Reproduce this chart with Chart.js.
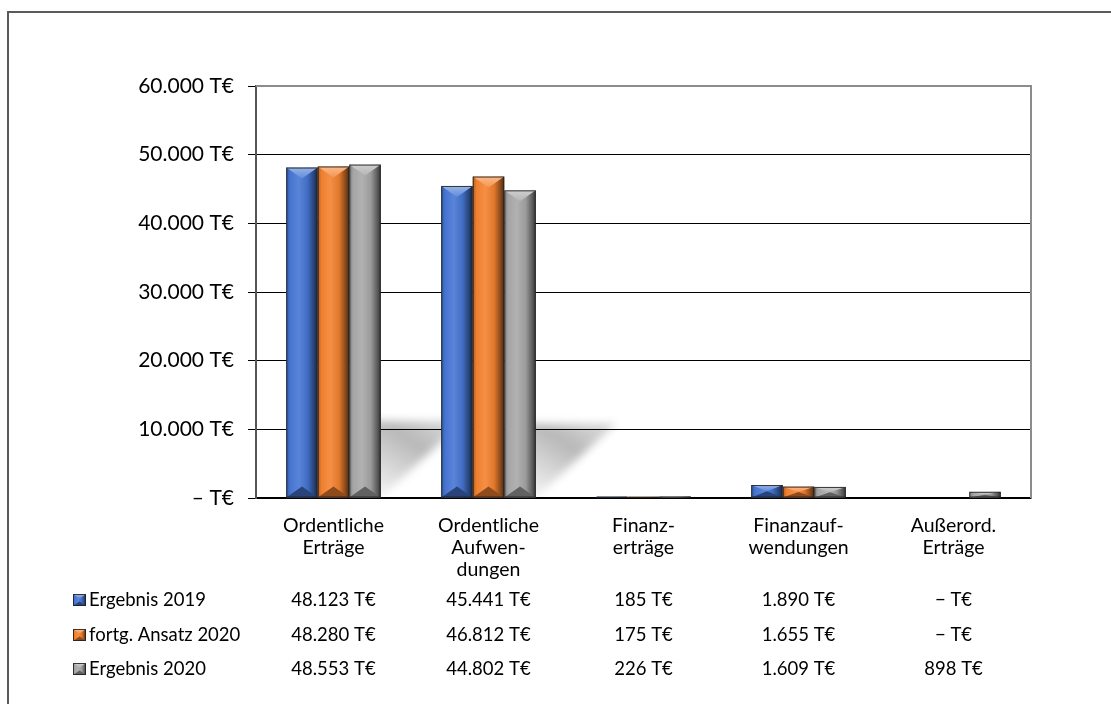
<!DOCTYPE html>
<html><head><meta charset="utf-8">
<script src="https://cdn.jsdelivr.net/npm/chart.js@4.4.0/dist/chart.umd.min.js"></script>
<style>
html,body{margin:0;padding:0;background:#fff;}
#wrap{position:relative;width:1111px;height:704px;overflow:hidden;}
#frame{position:absolute;left:7px;top:11px;width:1300px;height:900px;border-left:2px solid #5a5a5a;border-top:2px solid #5a5a5a;}
canvas{position:absolute;left:0;top:0;}
</style></head><body>
<div id="wrap"><div id="frame"></div><canvas id="c" width="1111" height="704"></canvas></div>
<script>
const categories = [["Ordentliche","Erträge"],["Ordentliche","Aufwen-","dungen"],["Finanz-","erträge"],["Finanzauf-","wendungen"],["Außerord.","Erträge"]];
const seriesNames = ["Ergebnis 2019","fortg. Ansatz 2020","Ergebnis 2020"];
const ergebnis2019 = [48123,45441,185,1890,0];
const ansatz2020 = [48280,46812,175,1655,0];
const ergebnis2020 = [48553,44802,226,1609,898];
const yMax = 60000;
const yStep = 10000;

const baseColors = [[70,118,212],[244,130,48],[168,168,168]];
const FONT = "Lato, 'Open Sans', sans-serif";

function fmt(n){
  if(n===0) return "\u2013 T\u20ac";
  return String(n).replace(/\B(?=(\d{3})+(?!\d))/g,'.') + " T\u20ac";
}
function fmtTable(n){
  if(n===0) return "\u2212 T\u20ac";
  return String(n).replace(/\B(?=(\d{3})+(?!\d))/g,'.') + " T\u20ac";
}
function shade(c,f){return 'rgb('+c.map(v=>Math.round(Math.max(0,Math.min(255,v*f)))).join(',')+')';}
function tint(c,f){return 'rgb('+c.map(v=>Math.round(v+(255-v)*f)).join(',')+')';}

function drawBevel(ctx,left,top,w,h,c){
  if(h<=0) return;
  const right=left+w, bottom=top+h, cx=left+w/2;
  ctx.save();
  const g=ctx.createLinearGradient(left,0,right,0);
  g.addColorStop(0,shade(c,0.72));
  g.addColorStop(0.12,shade(c,0.98));
  g.addColorStop(0.4,tint(c,0.1));
  g.addColorStop(0.68,shade(c,0.92));
  g.addColorStop(0.86,shade(c,0.6));
  g.addColorStop(1,shade(c,0.33));
  ctx.fillStyle=g;
  ctx.fillRect(left,top,w,h);
  const b=Math.min(w*0.35,h/2,11);
  if(b>1){
    ctx.beginPath();
    ctx.moveTo(left,top);ctx.lineTo(right,top);ctx.lineTo(cx,top+b);ctx.closePath();
    const gt=ctx.createLinearGradient(0,top,0,top+b);
    gt.addColorStop(0,tint(c,0.45));gt.addColorStop(1,tint(c,0.15));
    ctx.fillStyle=gt;ctx.fill();
    ctx.beginPath();
    ctx.moveTo(left,bottom);ctx.lineTo(right,bottom);ctx.lineTo(cx,bottom-b);ctx.closePath();
    ctx.fillStyle=shade(c,0.58);ctx.fill();
  }
  ctx.strokeStyle='rgba(30,30,30,0.85)';
  ctx.lineWidth=1;
  ctx.strokeRect(left+0.5,top+0.5,w-1,Math.max(h-1,0));
  ctx.restore();
}

const shadowPlugin={
  id:'shadow',
  beforeDatasetsDraw(chart){
    const ctx=chart.ctx, area=chart.chartArea;
    const m0=chart.getDatasetMeta(0), m2=chart.getDatasetMeta(2);
    ctx.save();
    ctx.beginPath();ctx.rect(area.left,area.top,area.right-area.left,area.bottom-area.top);ctx.clip();
    ctx.filter='blur(4px)';
    for(let i=0;i<m0.data.length;i++){
      const a=m0.data[i].getProps(['x','width','base'],true);
      const z=m2.data[i].getProps(['x','width','base'],true);
      let top=Infinity;
      for(let d=0;d<3;d++){top=Math.min(top,chart.getDatasetMeta(d).data[i].getProps(['y'],true).y);}
      const h=a.base-top;
      if(h<100) continue;
      const left=a.x-a.width/2, right=z.x+z.width/2;
      const sh=0.23*h, sk=0.25*h;
      ctx.beginPath();
      ctx.moveTo(left,a.base);ctx.lineTo(right,a.base);
      ctx.lineTo(right+sk,a.base-sh);ctx.lineTo(left+sk,a.base-sh);ctx.closePath();
      const g=ctx.createLinearGradient(right,a.base,right+sk*0.6,a.base-sh);
      g.addColorStop(0,'rgba(0,0,0,0.04)');
      g.addColorStop(0.7,'rgba(0,0,0,0.28)');
      g.addColorStop(1,'rgba(0,0,0,0.18)');
      ctx.fillStyle=g;ctx.fill();
    }
    ctx.restore();
  }
};

const bevelPlugin={
  id:'bevel',
  afterDatasetsDraw(chart){
    const ctx=chart.ctx;
    chart.data.datasets.forEach((ds,d)=>{
      chart.getDatasetMeta(d).data.forEach(el=>{
        const p=el.getProps(['x','y','base','width'],true);
        drawBevel(ctx,p.x-p.width/2,p.y,p.width,p.base-p.y,baseColors[d]);
      });
    });
  }
};

const framePlugin={
  id:'frame',
  afterDraw(chart){
    const ctx=chart.ctx, a=chart.chartArea;
    ctx.save();
    ctx.strokeStyle='#8c8c8c';ctx.lineWidth=2;
    ctx.beginPath();
    ctx.moveTo(a.left,a.top);ctx.lineTo(a.right,a.top);ctx.lineTo(a.right,a.bottom);
    ctx.stroke();
    ctx.restore();
  }
};

const tablePlugin={
  id:'table',
  afterDraw(chart){
    const ctx=chart.ctx, xs=chart.scales.x;
    const rows=[ergebnis2019,ansatz2020,ergebnis2020];
    const rowY=[600,635,669];
    ctx.save();
    ctx.font='18.5px '+FONT;
    ctx.textBaseline='middle';
    rows.forEach((vals,r)=>{
      const y=rowY[r];
      drawBevel(ctx,73,y-6,13,12,baseColors[r]);
      ctx.fillStyle='#000';
      ctx.textAlign='left';
      ctx.fillText(seriesNames[r],89,y);
      ctx.textAlign='center';
      vals.forEach((v,i)=>{ctx.fillText(fmtTable(v),xs.getPixelForValue(i),y);});
    });
    ctx.restore();
  }
};

const ctx=document.getElementById('c').getContext('2d');
new Chart(ctx,{
  type:'bar',
  data:{
    labels:categories,
    datasets:[
      {label:seriesNames[0],data:ergebnis2019,backgroundColor:'rgba(0,0,0,0)'},
      {label:seriesNames[1],data:ansatz2020,backgroundColor:'rgba(0,0,0,0)'},
      {label:seriesNames[2],data:ergebnis2020,backgroundColor:'rgba(0,0,0,0)'}
    ]
  },
  options:{
    responsive:false,animation:false,
    layout:{padding:{top:86,right:80,bottom:0,left:0}},
    datasets:{bar:{categoryPercentage:0.61,barPercentage:1}},
    plugins:{legend:{display:false},tooltip:{enabled:false}},
    scales:{
      x:{
        grid:{display:false},
        border:{display:true,color:'#000',width:1.5},
        ticks:{font:{family:FONT,size:19.5,lineHeight:1.12},color:'#000',padding:9,maxRotation:0,autoSkip:false},
        afterFit(s){s.height=206;}
      },
      y:{
        min:0,max:yMax,
        ticks:{stepSize:yStep,callback:v=>fmt(v),font:{family:FONT,size:21},color:'#000',padding:14},
        grid:{color:'#000',lineWidth:1,tickLength:8,drawTicks:true},
        border:{display:true,color:'#555',width:2},
        afterFit(s){s.width=256;}
      }
    }
  },
  plugins:[shadowPlugin,bevelPlugin,framePlugin,tablePlugin]
});
</script>
</body></html>
